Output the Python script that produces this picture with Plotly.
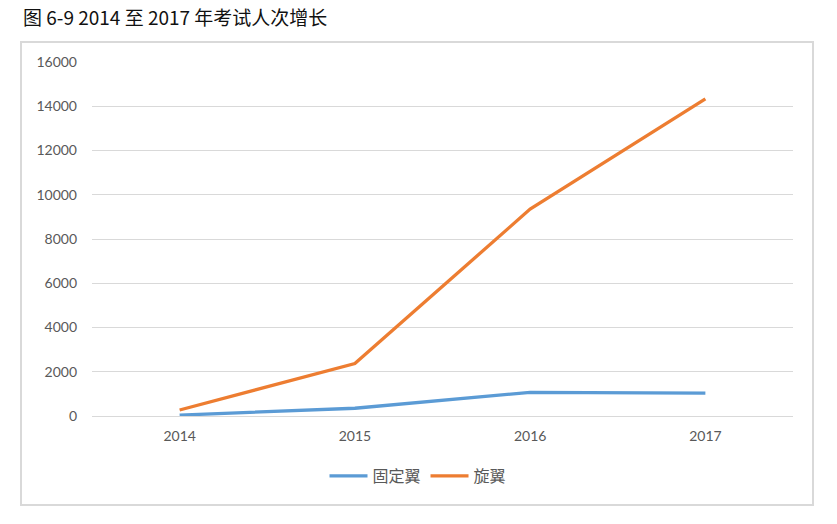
import plotly.graph_objects as go

years = ["2014", "2015", "2016", "2017"]
fixed_wing = [40, 350, 1070, 1030]
rotary_wing = [270, 2370, 9350, 14330]
series_names = ["固定翼", "旋翼"]
y_ticks = [0, 2000, 4000, 6000, 8000, 10000, 12000, 14000, 16000]
y_tick_text = [str(v) for v in y_ticks]
title_text = "图 6-9 2014 至 2017 年考试人次增长"

W, H = 837, 524
L, T = 92, 62
R = W - 793
B = H - 416
pw, ph = W - L - R, H - T - B

def px_x(x):
    return (x - L) / pw

def px_y(y):
    return (416 - y) / ph

fig = go.Figure()
fig.add_trace(go.Scatter(x=years, y=fixed_wing, name=series_names[0], mode="lines",
                         line=dict(color="#5B9BD5", width=3.3)))
fig.add_trace(go.Scatter(x=years, y=rotary_wing, name=series_names[1], mode="lines",
                         line=dict(color="#ED7D31", width=3.3)))

fig.update_layout(
    width=W, height=H,
    margin=dict(l=L, r=R, t=T, b=B),
    paper_bgcolor="white", plot_bgcolor="white",
    showlegend=True,
    legend=dict(orientation="h", x=px_x(418), xanchor="center", y=px_y(476), yanchor="middle",
                font=dict(family="Noto Sans CJK SC", size=16, color="#595959"),
                itemwidth=38, bgcolor="rgba(0,0,0,0)"),
    xaxis=dict(type="category", showgrid=False, showline=False, zeroline=False,
               ticks="", ticklabelstandoff=10,
               tickfont=dict(family="Lato", size=14, color="#595959"),
               range=[-0.5, 3.5]),
    yaxis=dict(range=[0, 16000], tickvals=y_ticks, ticktext=y_tick_text,
               showgrid=True, gridcolor="#d9d9d9",
               gridwidth=1, zeroline=True, zerolinecolor="#d9d9d9", zerolinewidth=1,
               showline=False, ticks="", ticklabelstandoff=14,
               tickfont=dict(family="Lato", size=14, color="#595959")),
    shapes=[dict(type="rect", xref="paper", yref="paper",
                 x0=px_x(21), x1=px_x(813), y0=px_y(505), y1=px_y(42),
                 line=dict(color="#d9d9d9", width=2), fillcolor="rgba(0,0,0,0)", layer="below")],
    annotations=[dict(text=title_text, xref="paper", yref="paper", x=px_x(21), y=px_y(17),
                      xanchor="left", yanchor="middle", showarrow=False,
                      font=dict(family="Noto Sans CJK SC", size=19, color="#111111"))],
)

fig.write_html("out.html", config={"displayModeBar": False},
               post_script="document.body.style.margin='0';document.body.style.overflow='hidden';")
